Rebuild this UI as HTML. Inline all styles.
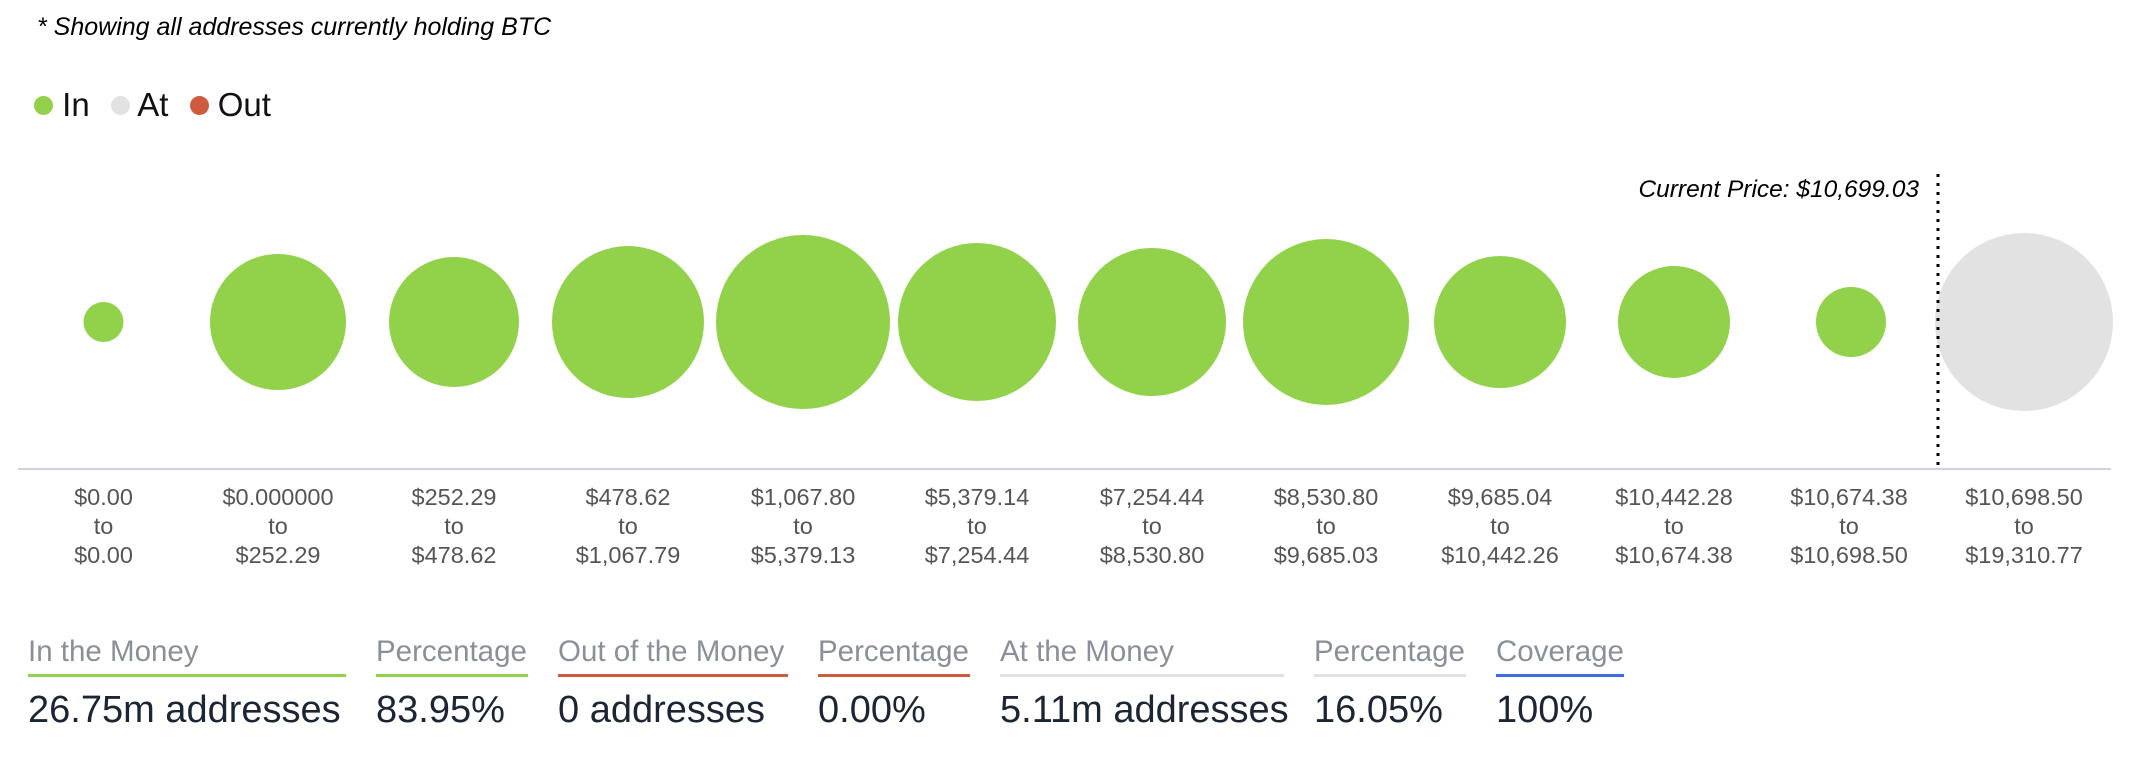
<!DOCTYPE html>
<html><head><meta charset="utf-8"><style>
body{margin:0;width:2136px;height:764px;background:#fff;overflow:hidden;font-family:"Liberation Sans",sans-serif;position:relative}
.a{position:absolute;white-space:nowrap}
.lab{position:absolute;width:170px;text-align:center;font-size:23.5px;color:#555;line-height:29px;top:483px}
.h{position:absolute;top:635px;font-size:29.5px;line-height:34px;color:#8a9099;padding-bottom:5px;border-bottom:3px solid}
.v{position:absolute;top:688px;font-size:38px;line-height:44px;color:#1c2533}
</style></head><body>
<div class="a" style="left:37px;top:12px;font-size:25px;line-height:30px;font-style:italic;color:#000">* Showing all addresses currently holding BTC</div>
<div class="a" style="left:34px;top:86px;font-size:33px;color:#111;line-height:38px">
<span style="display:inline-block;width:19px;height:19px;border-radius:50%;background:#92d14a;vertical-align:1px"></span> In
<span style="display:inline-block;width:19px;height:19px;border-radius:50%;background:#e2e2e2;vertical-align:1px;margin-left:12px"></span> At
<span style="display:inline-block;width:19px;height:19px;border-radius:50%;background:#cf5b3f;vertical-align:1px;margin-left:12px"></span> Out</div>
<svg class="a" style="left:0;top:0" width="2136" height="764">
<g fill="#92d14a">
<ellipse cx="103.5" cy="322" rx="20" ry="20"/>
<ellipse cx="278" cy="322" rx="68" ry="68"/>
<ellipse cx="454" cy="322" rx="65" ry="65"/>
<ellipse cx="628" cy="322" rx="76" ry="76"/>
<ellipse cx="803" cy="322" rx="87" ry="87"/>
<ellipse cx="977" cy="322" rx="79" ry="79"/>
<ellipse cx="1152" cy="322" rx="74" ry="74"/>
<ellipse cx="1326" cy="322" rx="83" ry="83"/>
<ellipse cx="1500" cy="322" rx="66" ry="66"/>
<ellipse cx="1674" cy="322" rx="56" ry="56"/>
<ellipse cx="1851" cy="322" rx="35" ry="35"/>
</g>
<ellipse cx="2024" cy="322" rx="89" ry="89" fill="#e2e2e2"/>
<line x1="18" y1="469" x2="2111" y2="469" stroke="#ccd3e0" stroke-width="2"/>
<line x1="1938" y1="174" x2="1938" y2="469" stroke="#000" stroke-width="3" stroke-dasharray="3,6"/>
<text x="1919" y="197" text-anchor="end" font-size="24.5" font-style="italic" font-family="Liberation Sans" fill="#000">Current Price: $10,699.03</text>
</svg>
<div class="lab" style="left:18.5px">$0.00<br>to<br>$0.00</div>
<div class="lab" style="left:193px">$0.000000<br>to<br>$252.29</div>
<div class="lab" style="left:369px">$252.29<br>to<br>$478.62</div>
<div class="lab" style="left:543px">$478.62<br>to<br>$1,067.79</div>
<div class="lab" style="left:718px">$1,067.80<br>to<br>$5,379.13</div>
<div class="lab" style="left:892px">$5,379.14<br>to<br>$7,254.44</div>
<div class="lab" style="left:1067px">$7,254.44<br>to<br>$8,530.80</div>
<div class="lab" style="left:1241px">$8,530.80<br>to<br>$9,685.03</div>
<div class="lab" style="left:1415px">$9,685.04<br>to<br>$10,442.26</div>
<div class="lab" style="left:1589px">$10,442.28<br>to<br>$10,674.38</div>
<div class="lab" style="left:1764px">$10,674.38<br>to<br>$10,698.50</div>
<div class="lab" style="left:1939px">$10,698.50<br>to<br>$19,310.77</div>
<div class="h" style="left:28px;width:318px;border-color:#92d14a">In the Money</div>
<div class="h" style="left:376px;width:152px;border-color:#92d14a">Percentage</div>
<div class="h" style="left:558px;width:230px;border-color:#cf5b3f">Out of the Money</div>
<div class="h" style="left:818px;width:152px;border-color:#cf5b3f">Percentage</div>
<div class="h" style="left:1000px;width:284px;border-color:#e2e2e2">At the Money</div>
<div class="h" style="left:1314px;width:152px;border-color:#e2e2e2">Percentage</div>
<div class="h" style="left:1496px;width:128px;border-color:#3b6fe0">Coverage</div>
<div class="v" style="left:28px">26.75m addresses</div>
<div class="v" style="left:376px">83.95%</div>
<div class="v" style="left:558px">0 addresses</div>
<div class="v" style="left:818px">0.00%</div>
<div class="v" style="left:1000px">5.11m addresses</div>
<div class="v" style="left:1314px">16.05%</div>
<div class="v" style="left:1496px">100%</div>
</body></html>
